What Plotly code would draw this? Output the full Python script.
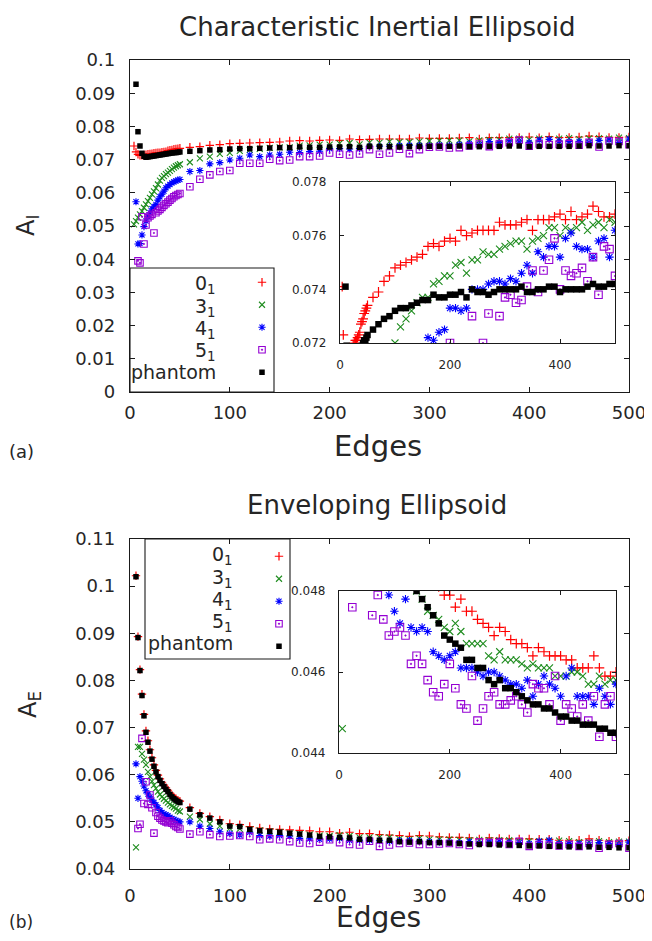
import plotly.graph_objects as go

# The page body has an 8 px margin, so the figure is drawn 8 px in from the window corner.
WIN_W, WIN_H = 652, 941
OFF = 8
W, H = WIN_W - OFF, WIN_H - 2 * OFF

# ---------------- data ----------------
X_DENSE = list(range(4, 52, 2))      # 4 .. 50
X_SPARSE = list(range(60, 510, 10))  # 60 .. 500
EDGES = X_DENSE + X_SPARSE

SERIES = ["0<sub>1</sub>", "3<sub>1</sub>", "4<sub>1</sub>", "5<sub>1</sub>", "phantom"]

# (a) characteristic inertial ellipsoid, A_I
AI_01 = [0.0741, 0.0723, 0.0716, 0.0713, 0.0713, 0.0714, 0.0715, 0.0716, 0.0717, 0.0718, 0.0719, 0.0720,
         0.0721, 0.0721, 0.0722, 0.0723, 0.0724, 0.0727, 0.0728, 0.0729, 0.0731, 0.0732, 0.0733, 0.0734,
         0.0737, 0.0739, 0.0743, 0.0745, 0.0748, 0.0749, 0.0750, 0.0751, 0.0752, 0.0753, 0.0756, 0.0757,
         0.0756, 0.0758, 0.0759, 0.0758, 0.0762, 0.0760, 0.0761, 0.0762, 0.0762, 0.0762, 0.0762, 0.0765,
         0.0764, 0.0764, 0.0764, 0.0765, 0.0766, 0.0762, 0.0766, 0.0766, 0.0766, 0.0767, 0.0768, 0.0766,
         0.0769, 0.0766, 0.0767, 0.0768, 0.0771, 0.0769, 0.0767, 0.0767, 0.0768]
AI_31 = [0.0505, 0.0515, 0.0525, 0.0535, 0.0545, 0.0555, 0.0565, 0.0575, 0.0585, 0.0595, 0.0604, 0.0614,
         0.0625, 0.0637, 0.0645, 0.0650, 0.0656, 0.0661, 0.0666, 0.0671, 0.0676, 0.0680, 0.0683, 0.0686,
         0.0692, 0.0704, 0.0709, 0.0717, 0.0720, 0.0726, 0.0729, 0.0732, 0.0735, 0.0737, 0.0737, 0.0742,
         0.0743, 0.0745, 0.0745, 0.0749, 0.0750, 0.0746, 0.0751, 0.0751, 0.0754, 0.0753, 0.0753, 0.0755,
         0.0756, 0.0757, 0.0758, 0.0758, 0.0755, 0.0758, 0.0759, 0.0760, 0.0763, 0.0763, 0.0760, 0.0763,
         0.0762, 0.0763, 0.0765, 0.0762, 0.0764, 0.0765, 0.0763, 0.0766, 0.0765]
AI_41 = [None, 0.0573, 0.0446, 0.0447, 0.0473, 0.0498, 0.0515, 0.0528, 0.0540, 0.0552, 0.0558, 0.0565,
         0.0578, 0.0588, 0.0596, 0.0605, 0.0615, 0.0620, 0.0625, 0.0630, 0.0633, 0.0636, 0.0638, 0.0640,
         0.0664, 0.0667, 0.0687, 0.0691, 0.0699, 0.0704, 0.0714, 0.0709, 0.0714, 0.0716, 0.0722, 0.0721,
         0.0724, 0.0725, 0.0733, 0.0733, 0.0732, 0.0733, 0.0740, 0.0740, 0.0740, 0.0742, 0.0743, 0.0743,
         0.0742, 0.0744, 0.0743, 0.0746, 0.0749, 0.0746, 0.0754, 0.0752, 0.0756, 0.0756, 0.0752, 0.0759,
         0.0761, 0.0756, 0.0755, 0.0755, 0.0752, 0.0758, 0.0759, 0.0752, 0.0762]
AI_51 = [None, None, 0.0395, 0.0389, 0.0528, 0.0446, 0.0503, 0.0525, 0.0530, 0.0535, 0.0479, 0.0540,
         0.0545, 0.0550, 0.0556, 0.0562, 0.0567, 0.0572, 0.0578, 0.0583, 0.0588, 0.0592, 0.0595, 0.0598,
         0.0618, 0.0641, 0.0654, 0.0664, 0.0667, 0.0689, 0.0689, 0.0689, 0.0701, 0.0697, 0.0699, 0.0709,
         0.0709, 0.0711, 0.0720, 0.0716, 0.0714, 0.0717, 0.0730, 0.0716, 0.0720, 0.0731, 0.0718, 0.0730,
         0.0737, 0.0738, 0.0735, 0.0736, 0.0741, 0.0747, 0.0739, 0.0747, 0.0751, 0.0759, 0.0740, 0.0747,
         0.0745, 0.0746, 0.0748, 0.0743, 0.0752, 0.0738, 0.0756, 0.0755, 0.0745]
AI_PH = [None, 0.0927, 0.0784, 0.0741, 0.0719, 0.0710, 0.0707, 0.0708, 0.0709, 0.0710, 0.0711, 0.0712,
         0.0713, 0.0714, 0.0715, 0.0716, 0.0717, 0.0718, 0.0719, 0.0720, 0.0721, 0.0721, 0.0722, 0.0723,
         0.0725, 0.0727, 0.0729, 0.0730, 0.0732, 0.0733, 0.0733, 0.0734, 0.0735, 0.0736, 0.0736, 0.0738,
         0.0737, 0.0737, 0.0738, 0.0738, 0.0739, 0.0737, 0.0740, 0.0739, 0.0739, 0.0738, 0.0739, 0.0740,
         0.0740, 0.0740, 0.0740, 0.0741, 0.0739, 0.0739, 0.0740, 0.0740, 0.0741, 0.0741, 0.0739, 0.0740,
         0.0740, 0.0740, 0.0740, 0.0741, 0.0742, 0.0741, 0.0741, 0.0742, 0.0742]

# (b) enveloping ellipsoid, A_E
AE_01 = [None, 0.1022, 0.0893, 0.0823, 0.0771, 0.0728, 0.0693, 0.0672, 0.0653, 0.0636, 0.0621, 0.0609,
         0.0599, 0.0591, 0.0584, 0.0578, 0.0572, 0.0567, 0.0561, 0.0556, 0.0552, 0.0549, 0.0546, 0.0544,
         0.0530, 0.0518, 0.0511, 0.0504, 0.0496, 0.0494, 0.0490, 0.0487, 0.0485, 0.0484, 0.0483, 0.0482,
         0.0481, 0.0479, 0.0479, 0.0476, 0.0478, 0.0475, 0.0475, 0.0473, 0.0472, 0.0471, 0.0469, 0.0471,
         0.0470, 0.0468, 0.0467, 0.0467, 0.0466, 0.0464, 0.0466, 0.0465, 0.0464, 0.0464, 0.0464, 0.0463,
         0.0463, 0.0461, 0.0461, 0.0461, 0.0464, 0.0461, 0.0459, 0.0459, 0.0460]
AE_31 = [None, 0.0446, 0.0659, 0.0659, 0.0644, 0.0632, 0.0621, 0.0606, 0.0596, 0.0586, 0.0578, 0.0571,
         0.0564, 0.0558, 0.0553, 0.0549, 0.0545, 0.0541, 0.0537, 0.0534, 0.0531, 0.0528, 0.0524, 0.0522,
         0.0511, 0.0505, 0.0496, 0.0491, 0.0486, 0.0485, 0.0484, 0.0482, 0.0480, 0.0478, 0.0475, 0.0474,
         0.0473, 0.0471, 0.0470, 0.0472, 0.0470, 0.0467, 0.0467, 0.0467, 0.0467, 0.0464, 0.0463, 0.0465,
         0.0463, 0.0463, 0.0463, 0.0462, 0.0461, 0.0462, 0.0461, 0.0461, 0.0461, 0.0459, 0.0459, 0.0459,
         0.0460, 0.0460, 0.0459, 0.0457, 0.0457, 0.0459, 0.0457, 0.0458, 0.0458]
AE_41 = [None, 0.0623, 0.0550, 0.0596, 0.0586, 0.0576, 0.0566, 0.0559, 0.0553, 0.0546, 0.0541, 0.0536,
         0.0530, 0.0524, 0.0520, 0.0517, 0.0515, 0.0513, 0.0510, 0.0507, 0.0505, 0.0503, 0.0501, 0.0500,
         0.0500, 0.0491, 0.0486, 0.0479, 0.0475, 0.0472, 0.0478, 0.0471, 0.0470, 0.0471, 0.0470, 0.0465,
         0.0464, 0.0463, 0.0464, 0.0465, 0.0461, 0.0461, 0.0461, 0.0460, 0.0459, 0.0460, 0.0460, 0.0459,
         0.0458, 0.0457, 0.0457, 0.0456, 0.0458, 0.0454, 0.0457, 0.0459, 0.0457, 0.0456, 0.0454, 0.0459,
         0.0461, 0.0454, 0.0454, 0.0454, 0.0452, 0.0456, 0.0454, 0.0452, 0.0457]
AE_51 = [None, None, 0.0486, 0.0495, 0.0677, 0.0539, 0.0585, 0.0537, 0.0557, 0.0530, 0.0476, 0.0520,
         0.0512, 0.0508, 0.0504, 0.0502, 0.0500, 0.0498, 0.0502, 0.0497, 0.0494, 0.0490, 0.0488, 0.0485,
         0.0474, 0.0479, 0.0473, 0.0469, 0.0470, 0.0471, 0.0469, 0.0462, 0.0464, 0.0462, 0.0458, 0.0455,
         0.0454, 0.0457, 0.0462, 0.0456, 0.0452, 0.0451, 0.0459, 0.0448, 0.0451, 0.0454, 0.0455, 0.0452,
         0.0452, 0.0453, 0.0454, 0.0452, 0.0450, 0.0457, 0.0456, 0.0456, 0.0452, 0.0459, 0.0448, 0.0452,
         0.0451, 0.0449, 0.0452, 0.0448, 0.0454, 0.0444, 0.0452, 0.0454, 0.0444]
AE_PH = [None, 0.1020, 0.0891, 0.0821, 0.0768, 0.0725, 0.0690, 0.0669, 0.0650, 0.0633, 0.0618, 0.0606,
         0.0596, 0.0588, 0.0581, 0.0575, 0.0569, 0.0564, 0.0558, 0.0553, 0.0549, 0.0546, 0.0543, 0.0541,
         0.0527, 0.0515, 0.0508, 0.0500, 0.0491, 0.0490, 0.0484, 0.0481, 0.0480, 0.0478, 0.0476, 0.0474,
         0.0472, 0.0469, 0.0468, 0.0467, 0.0466, 0.0463, 0.0463, 0.0461, 0.0461, 0.0458, 0.0457, 0.0458,
         0.0456, 0.0456, 0.0455, 0.0454, 0.0453, 0.0452, 0.0452, 0.0451, 0.0451, 0.0450, 0.0449, 0.0449,
         0.0448, 0.0448, 0.0447, 0.0447, 0.0447, 0.0446, 0.0446, 0.0445, 0.0445]

X_TICKS_MAIN = [0, 100, 200, 300, 400, 500]
X_TICKS_INSET = [0, 200, 400]

# ---------------- styling ----------------
FONT = "DejaVu Sans"
TXT = "#262626"
AX = "#1a1a1a"

def styles(extra):
    return [
        dict(symbol="cross-thin", color="#ff0000", size=6 + extra, line=dict(width=1.2, color="#ff0000")),
        dict(symbol="x-thin", color="#1e8c1e", size=6 + extra, line=dict(width=1.1, color="#1e8c1e")),
        dict(symbol="asterisk", color="#0000ff", size=6 + extra, line=dict(width=1.1, color="#0000ff")),
        dict(symbol="square-open-dot", color="#9400d3", size=6.5 + extra, line=dict(width=1.1, color="#9400d3")),
        dict(symbol="square", color="#000000", size=5.5 + extra, line=dict(width=0)),
    ]

def px_x(p):
    return (p - OFF) / W

def px_y(p):
    return 1 - (p - OFF) / H

fig = go.Figure()

panels = [
    ("x", "y", "x2", "y2", [AI_01, AI_31, AI_41, AI_51, AI_PH], "legend"),
    ("x3", "y3", "x4", "y4", [AE_01, AE_31, AE_41, AE_51, AE_PH], "legend2"),
]

for xm, ym, xi, yi, data, leg in panels:
    for name, vals, st in zip(SERIES, data, styles(0)):
        fig.add_trace(go.Scatter(
            x=EDGES, y=vals, mode="markers", name="", xaxis=xm, yaxis=ym,
            marker=st, legend=leg, showlegend=True, cliponaxis=True,
            hovertext=name))
    for name, vals, st in zip(SERIES, data, styles(1)):
        fig.add_trace(go.Scatter(
            x=EDGES, y=vals, mode="markers", name=name, xaxis=xi, yaxis=yi,
            marker=st, showlegend=False, cliponaxis=True))

def axis(domain, rng, dtick=None, tickvals=None, size=18, ticklen=5, standoff=4, anchor=None):
    d = dict(domain=domain, range=rng, showline=True, linecolor=AX, linewidth=1.3,
             mirror="allticks", ticks="inside", ticklen=ticklen, tickwidth=1.1, tickcolor=AX,
             showgrid=False, zeroline=False, anchor=anchor, automargin=False,
             ticklabeloverflow="allow",
             tickfont=dict(family=FONT, size=size, color=TXT), ticklabelstandoff=standoff)
    if dtick is not None:
        d["dtick"] = dtick
        d["tick0"] = rng[0]
    if tickvals is not None:
        d["tickvals"] = tickvals
    return d

fig.update_layout(
    width=W, height=H, margin=dict(l=0, r=0, t=0, b=0, autoexpand=False),
    paper_bgcolor="white", plot_bgcolor="rgba(0,0,0,0)",
    font=dict(family=FONT, color=TXT),
    xaxis=axis([px_x(130), px_x(629)], [0, 500], tickvals=X_TICKS_MAIN, anchor="y", standoff=4),
    yaxis=axis([px_y(392), px_y(60)], [0, 0.1], dtick=0.01, anchor="x", standoff=10),
    xaxis2=axis([px_x(340), px_x(615)], [0, 500], tickvals=X_TICKS_INSET, size=12, ticklen=4, anchor="y2", standoff=10),
    yaxis2=axis([px_y(343), px_y(182)], [0.072, 0.078], dtick=0.002, size=12, ticklen=4, anchor="x2", standoff=10),
    xaxis3=axis([px_x(130), px_x(629)], [0, 500], tickvals=X_TICKS_MAIN, anchor="y3", standoff=10),
    yaxis3=axis([px_y(869), px_y(539)], [0.04, 0.11], dtick=0.01, anchor="x3", standoff=10),
    xaxis4=axis([px_x(339), px_x(616)], [0, 500], tickvals=X_TICKS_INSET, size=12, ticklen=4, anchor="y4", standoff=10),
    yaxis4=axis([px_y(753), px_y(591)], [0.044, 0.048], dtick=0.002, size=12, ticklen=4, anchor="x4", standoff=10),
    legend=dict(x=px_x(242), y=px_y(266), xanchor="left", yanchor="top",
                bgcolor="rgba(0,0,0,0)", borderwidth=0, font=dict(size=15), tracegroupgap=0),
    legend2=dict(x=px_x(259), y=px_y(540), xanchor="left", yanchor="top",
                 bgcolor="rgba(0,0,0,0)", borderwidth=0, font=dict(size=15), tracegroupgap=0),
)

shapes = [
    dict(type="rect", xref="paper", yref="paper", x0=px_x(130), x1=px_x(274), y0=px_y(392), y1=px_y(268),
         line=dict(color=AX, width=1.1)),
    dict(type="rect", xref="paper", yref="paper", x0=px_x(145), x1=px_x(290), y0=px_y(659), y1=px_y(539),
         line=dict(color=AX, width=1.1)),
]
fig.update_layout(shapes=shapes)

ann = []
def text(t, x, y, size, xanchor="center", yanchor="middle", angle=0):
    ann.append(dict(text=t, x=px_x(x), y=px_y(y), xref="paper", yref="paper", showarrow=False,
                    xanchor=xanchor, yanchor=yanchor, textangle=angle,
                    font=dict(family=FONT, size=size, color=TXT)))

text("Characteristic Inertial Ellipsoid", 377, 27, 26)
text("Enveloping Ellipsoid", 377, 505, 26)
text("Edges", 378, 446, 29)
text("Edges", 378, 917, 28)
text("(a)", 21, 451, 18)
text("(b)", 21, 922, 17)
text("A<sub>I</sub>", 27, 226, 24, angle=-90)
text("A<sub>E</sub>", 29, 705, 24, angle=-90)

top_rows = [284, 307, 329, 351, 373]
bot_rows = [555, 578, 600, 622, 644]
for name, y in zip(SERIES, top_rows):
    text(name, 218, y + (0 if "sub" in name else -1), 19, xanchor="right")
for name, y in zip(SERIES, bot_rows):
    text(name, 235, y + (0 if "sub" in name else -1), 19, xanchor="right")
fig.update_layout(annotations=ann)

fig.write_html("out.html")
